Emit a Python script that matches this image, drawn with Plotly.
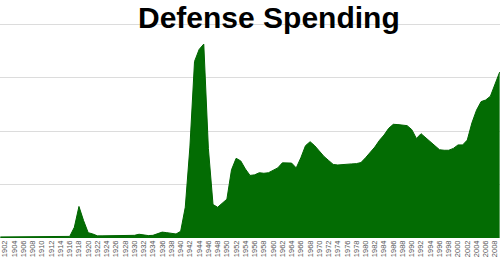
import plotly.graph_objects as go

years = list(range(1901, 2010))
spending = [
    # 1901-1915
    4, 4, 4, 4, 4, 4, 4, 4, 4, 4, 4, 4, 4, 4, 4,
    # 1916-1929
    6, 40, 118, 65, 20, 15, 8, 8, 8, 8, 8, 8, 8, 8,
    # 1930-1940
    10, 14, 12, 9, 10, 15, 22, 20, 17, 15, 25,
    # 1941-1950
    115, 340, 660, 705, 725, 335, 125, 115, 130, 145,
    # 1951-1960
    255, 298, 288, 258, 234, 236, 244, 242, 244, 252,
    # 1961-1970
    262, 281, 281, 280, 262, 300, 345, 360, 345, 325,
    # 1971-1980
    305, 290, 275, 273, 275, 276, 277, 278, 282, 300,
    # 1981-1990
    320, 340, 365, 385, 410, 425, 424, 423, 420, 405,
    # 1991-2000
    372, 390, 375, 360, 345, 330, 328, 328, 335, 348,
    # 2001-2009
    348, 366, 430, 478, 510, 516, 530, 575, 620,
]
tick_years = list(range(1902, 2009, 2))
tick_labels = [str(y) for y in tick_years]
grid_values = [200, 400, 600, 800]
title_text = "Defense Spending"

fig = go.Figure()
fig.add_trace(go.Scatter(
    x=years, y=spending, mode="lines", fill="tozeroy",
    line=dict(color="rgb(0,100,0)", width=1),
    fillcolor="rgb(3,108,3)", hoverinfo="skip", showlegend=False,
))

fig.update_layout(
    width=500, height=260,
    margin=dict(l=0, r=0, t=22, b=22),
    paper_bgcolor="white", plot_bgcolor="white",
    xaxis=dict(
        range=[1900.92, 2009.08], tickmode="array",
        tickvals=tick_years, ticktext=tick_labels, tickangle=-90,
        tickfont=dict(family="Liberation Sans", size=7.5, color="#555"),
        showgrid=False, zeroline=False, showline=False, ticks="",
    ),
    yaxis=dict(
        range=[0, 807.5], tickmode="array", tickvals=grid_values,
        showticklabels=False, showgrid=True, gridcolor="#dcdcdc",
        gridwidth=1, zeroline=False, showline=False, ticks="",
    ),
    annotations=[dict(
        text=title_text, xref="paper", yref="paper", x=0.538, y=1.0,
        yshift=5, xanchor="center", yanchor="middle", showarrow=False,
        font=dict(family="Liberation Sans", size=30, color="black",
                  weight="bold"),
    )],
)

fig.write_html("out.html")
